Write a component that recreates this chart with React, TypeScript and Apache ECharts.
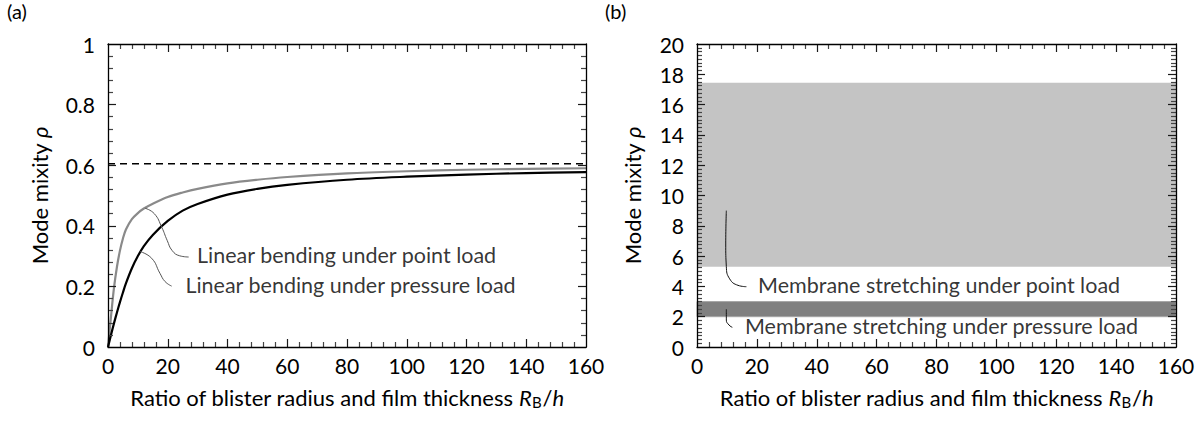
import React, { useEffect, useRef } from 'react';
import * as echarts from 'echarts';

// ---------- data ----------
const ratio = [0, 1, 2, 3, 4, 5, 6, 8, 10, 12, 15, 20, 25, 30, 40, 50, 60, 80, 100, 120, 140, 160];
const bendingPointLoad = [0, 0.1, 0.195, 0.265, 0.318, 0.358, 0.388, 0.422, 0.442, 0.457, 0.473, 0.495, 0.51, 0.522, 0.54, 0.552, 0.561, 0.573, 0.58, 0.585, 0.588, 0.59];
const bendingPressureLoad = [0, 0.04, 0.078, 0.114, 0.148, 0.18, 0.21, 0.26, 0.3, 0.333, 0.37, 0.416, 0.45, 0.472, 0.503, 0.522, 0.535, 0.552, 0.562, 0.569, 0.574, 0.577];
const limitValue = 0.605;
const limitRange = [0, 160];

const leaderBendingPoint = [[12.4, 0.458], [15.5, 0.44], [18.0, 0.395], [19.8, 0.352], [21.5, 0.318], [24, 0.301], [27, 0.297]];
const leaderBendingPressure = [[10.7, 0.315], [14.6, 0.293], [17.4, 0.243], [19.1, 0.216], [21.3, 0.201]];
const labelBendingPoint = [29.8, 0.304];
const labelBendingPressure = [25.9, 0.205];

const membranePointBand = [5.3, 17.45];
const membranePressureBand = [2.0, 3.0];
const leaderMembranePoint = [[9.8, 9.0], [9.6, 6.8], [9.8, 5.3], [10.9, 4.5], [13.7, 4.07], [16.5, 3.98]];
const leaderMembranePressure = [[9.8, 2.49], [9.8, 1.78], [10.7, 1.45], [11.8, 1.3]];
const labelMembranePoint = [20.4, 4.1];
const labelMembranePressure = [16.0, 1.4];

// axis ranges and tick steps
const xRange = [0, 160];
const xMajorStep = 20;
const xMinorStep = 4;
const yRangeA = [0, 1];
const yMajorStepA = 0.2;
const yMinorStepA = 0.04;
const yRangeB = [0, 20];
const yMajorStepB = 2;
const yMinorStepB = 0.25;

const xTitle = 'Ratio of blister radius and film thickness {i|R}{sub|B}{n|/}{i|h}';
const yTitle = 'Mode mixity {i|ρ}';

const FONT = 'Lato';
const FS = 21;

const GRIDS = [
  { left: 108, width: 478 },
  { left: 697, width: 479 },
];
const TOP = 44;
const HEIGHT = 303;

function tickValues(range: number[], minorStep: number, majorStep: number) {
  const major: number[] = [];
  const minor: number[] = [];
  const n = Math.round((range[1] - range[0]) / minorStep);
  for (let i = 1; i < n; i++) {
    const v = +(range[0] + i * minorStep).toFixed(6);
    const r = v / majorStep;
    (Math.abs(r - Math.round(r)) < 1e-6 ? major : minor).push(v);
  }
  return { major, minor };
}

export default function App() {
  const ref = useRef<HTMLDivElement>(null);
  useEffect(() => {
    const chart = echarts.init(ref.current!, null, { renderer: 'svg' });
    const textBase = () => ({ fontFamily: FONT, color: '#000', fontSize: FS });
    const rich = () => ({
      i: { fontFamily: FONT, fontStyle: 'italic', fontSize: 22, color: '#000' },
      n: { fontFamily: FONT, fontSize: 22, color: '#000' },
      sub: { fontFamily: FONT, fontSize: 15, color: '#000', padding: [9, 1, 0, 0] },
    });
    const axisLine = () => ({ show: true, onZero: false, lineStyle: { color: '#000', width: 1.3 } });

    const xAxes = (g: number) => {
      const base = { type: 'value', gridIndex: g, min: xRange[0], max: xRange[1], interval: xMajorStep, splitLine: { show: false }, axisTick: { show: false }, minorTick: { show: false }, z: 20 };
      return [
        {
          ...base, position: 'bottom', axisLine: axisLine(),
          axisLabel: { ...textBase(), margin: 8 },
          name: xTitle, nameLocation: 'middle', nameGap: 38,
          nameTextStyle: { ...textBase(), fontSize: 22, rich: rich() },
        },
        { ...base, position: 'top', axisLine: axisLine(), axisLabel: { show: false } },
      ];
    };
    const yAxes = (g: number, range: number[], interval: number) => {
      const base = { type: 'value', gridIndex: g, min: range[0], max: range[1], interval, splitLine: { show: false }, axisTick: { show: false }, minorTick: { show: false }, z: 20 };
      return [
        {
          ...base, position: 'left', axisLine: axisLine(),
          axisLabel: { ...textBase(), margin: 13 },
          name: yTitle, nameLocation: 'middle', nameGap: g === 0 ? 58 : 54, nameRotate: 90,
          nameTextStyle: { ...textBase(), fontSize: 22, rich: rich() },
        },
        { ...base, position: 'right', axisLine: axisLine(), axisLabel: { show: false } },
      ];
    };

    // tick marks on all four edges, as markLine segments in data coordinates
    const tickSeries = (g: number, yRange: number[], yMinor: number, yMajor: number) => {
      const xPerPx = (xRange[1] - xRange[0]) / GRIDS[g].width;
      const yPerPx = (yRange[1] - yRange[0]) / HEIGHT;
      const xt = tickValues(xRange, xMinorStep, xMajorStep);
      const yt = tickValues(yRange, yMinor, yMajor);
      const segs = (xs: number[], ys: number[], len: number) => {
        const out: any[] = [];
        xs.forEach((v) => {
          out.push([{ coord: [v, yRange[0]] }, { coord: [v, yRange[0] + len * yPerPx] }]);
          out.push([{ coord: [v, yRange[1]] }, { coord: [v, yRange[1] - len * yPerPx] }]);
        });
        ys.forEach((v) => {
          out.push([{ coord: [xRange[0], v] }, { coord: [xRange[0] + len * xPerPx, v] }]);
          out.push([{ coord: [xRange[1], v] }, { coord: [xRange[1] - len * xPerPx, v] }]);
        });
        return out;
      };
      const mk = (xs: number[], ys: number[], len: number, color: string) => ({
        type: 'line', xAxisIndex: g * 2, yAxisIndex: g * 2, data: [], symbol: 'none', z: 15, silent: true,
        markLine: {
          silent: true, symbol: ['none', 'none'], animation: false,
          label: { show: false }, emphasis: { disabled: true },
          lineStyle: { color, width: 1.2, type: 'solid' },
          data: segs(xs, ys, len),
        },
      });
      return [mk(xt.major, yt.major, 8, '#1a1a1a'), mk(xt.minor, yt.minor, 5, '#444')];
    };

    const pair = (xs: number[], ys: number[]) => xs.map((x, i) => [x, ys[i]]);

    const textLabel = (pos: number[], text: string, grid: number) => ({
      type: 'scatter', xAxisIndex: grid * 2, yAxisIndex: grid * 2, symbolSize: 0,
      data: [pos], z: 10,
      label: { show: true, position: 'right', distance: 0, formatter: text, ...textBase(), fontSize: 21.5 },
      silent: true,
    });

    chart.setOption({
      animation: false,
      grid: GRIDS.map((g) => ({ left: g.left, width: g.width, top: TOP, height: HEIGHT })),
      xAxis: [...xAxes(0), ...xAxes(1)],
      yAxis: [...yAxes(0, yRangeA, yMajorStepA), ...yAxes(1, yRangeB, yMajorStepB)],
      graphic: [
        { type: 'text', left: 7, top: 1, style: { text: '(a)', font: `20px ${FONT}`, fill: '#000' } },
        { type: 'text', left: 605, top: 1, style: { text: '(b)', font: `20px ${FONT}`, fill: '#000' } },
      ],
      series: [
        {
          type: 'line', xAxisIndex: 0, yAxisIndex: 0, showSymbol: false, symbol: 'none',
          data: limitRange.map((x) => [x, limitValue]),
          lineStyle: { color: '#000', width: 1.5, type: [7, 5] },
        },
        {
          type: 'line', xAxisIndex: 0, yAxisIndex: 0, symbol: 'none', smooth: 0.35,
          data: pair(ratio, bendingPointLoad), lineStyle: { color: '#8a8a8a', width: 2.2 },
        },
        {
          type: 'line', xAxisIndex: 0, yAxisIndex: 0, symbol: 'none', smooth: 0.35,
          data: pair(ratio, bendingPressureLoad), lineStyle: { color: '#000', width: 2.2 },
        },
        {
          type: 'line', xAxisIndex: 0, yAxisIndex: 0, symbol: 'none', smooth: 0.5,
          data: leaderBendingPoint, lineStyle: { color: '#555', width: 1 },
        },
        {
          type: 'line', xAxisIndex: 0, yAxisIndex: 0, symbol: 'none', smooth: 0.5,
          data: leaderBendingPressure, lineStyle: { color: '#555', width: 1 },
        },
        textLabel(labelBendingPoint, 'Linear bending under point load', 0),
        textLabel(labelBendingPressure, 'Linear bending under pressure load', 0),
        ...tickSeries(0, yRangeA, yMinorStepA, yMajorStepA),
        {
          type: 'line', xAxisIndex: 2, yAxisIndex: 2, symbol: 'none', data: [], z: 1,
          markArea: {
            silent: true,
            data: [
              [{ xAxis: 0, yAxis: membranePointBand[0], itemStyle: { color: '#c4c4c4' } }, { xAxis: 160, yAxis: membranePointBand[1] }],
              [{ xAxis: 0, yAxis: membranePressureBand[0], itemStyle: { color: '#808080', borderColor: '#a6a6a6', borderWidth: 1 } }, { xAxis: 160, yAxis: membranePressureBand[1] }],
            ],
          },
        },
        {
          type: 'line', xAxisIndex: 2, yAxisIndex: 2, symbol: 'none', smooth: 0.5, z: 5,
          data: leaderMembranePoint, lineStyle: { color: '#111', width: 1 },
        },
        {
          type: 'line', xAxisIndex: 2, yAxisIndex: 2, symbol: 'none', smooth: 0.5, z: 5,
          data: leaderMembranePressure, lineStyle: { color: '#111', width: 1 },
        },
        textLabel(labelMembranePoint, 'Membrane stretching under point load', 1),
        textLabel(labelMembranePressure, 'Membrane stretching under pressure load', 1),
        ...tickSeries(1, yRangeB, yMinorStepB, yMajorStepB),
      ],
    });
    return () => chart.dispose();
  }, []);
  return <div ref={ref} style={{ position: 'fixed', left: 0, top: 0, width: 1203, height: 421, background: '#fff' }} />;
}
